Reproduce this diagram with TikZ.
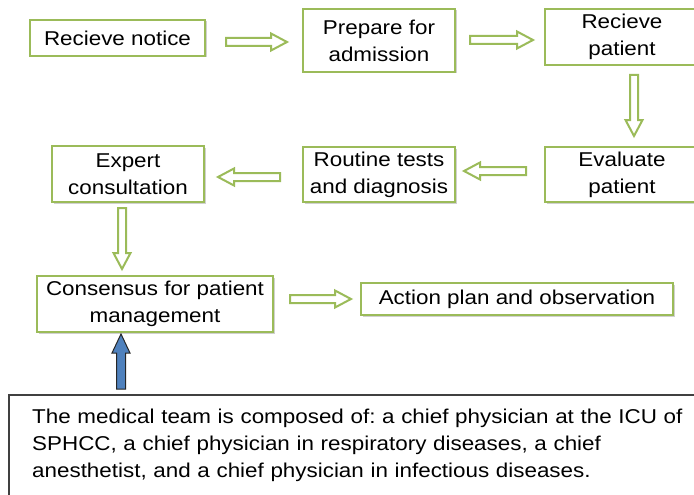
\documentclass[tikz,border=0pt]{standalone}
\usepackage{fontspec}
\setmainfont{Liberation Sans}[FakeStretch=1.12]
\frenchspacing
\usetikzlibrary{calc,shadows}
\definecolor{ogreen}{HTML}{9BBB59}
\definecolor{oblue}{HTML}{4F81BD}
\tikzset{
  stepbox/.style={draw=ogreen, line width=2pt, fill=white, align=center, inner sep=0pt,
    font=\fontsize{20}{27}\selectfont,
    drop shadow={shadow xshift=1.5pt, shadow yshift=-1.5pt, opacity=0.3, fill=black!60}},
  teambox/.style={draw=black!75, line width=1.6pt, fill=white, inner sep=0pt},
  garrow/.style={draw=ogreen, line width=2pt, fill=white, line join=miter},
  barrowstyle/.style={draw=black!85, line width=1pt, fill=oblue, line join=miter},
  pics/barrow/.style={code={\draw[garrow] (0,-4) -- ({#1-16},-4) -- ({#1-16},-8.5) -- (#1,0) -- ({#1-16},8.5) -- ({#1-16},4) -- (0,4) -- cycle;}},
  pics/bluearrow/.style={code={\draw[barrowstyle] (0,-4.5) -- ({#1-19},-4.5) -- ({#1-19},-9) -- (#1,0) -- ({#1-19},9) -- ({#1-19},4.5) -- (0,4.5) -- cycle;}}
}
\begin{document}
\begin{tikzpicture}[x=1pt,y=-1pt]
\useasboundingbox (0,0) rectangle (694,495);
\clip (0,0) rectangle (694,495);
\fill[white] (0,0) rectangle (694,495);

\node[stepbox, minimum width=175pt, minimum height=36pt] (n1) at (117.5,38) {Recieve notice};
\node[stepbox, minimum width=152pt, minimum height=63pt] (n2) at (379,40.5) {Prepare for\\admission};
\node[stepbox, minimum width=154pt, minimum height=56pt] (n3) at (622,37) {Recieve\\patient};
\node[stepbox, minimum width=154pt, minimum height=55pt] (n4) at (622,174.5) {Evaluate\\patient};
\node[stepbox, minimum width=152pt, minimum height=55pt] (n5) at (379,174.5) {Routine tests\\and diagnosis};
\node[stepbox, minimum width=152pt, minimum height=56pt] (n6) at (128,174) {Expert\\consultation};
\node[stepbox, minimum width=236pt, minimum height=56pt] (n7) at (155,304) {Consensus for patient\\management};
\node[stepbox, minimum width=312pt, minimum height=32pt] (n8) at (517,299) {Action plan and observation};

\node[teambox, anchor=north west, minimum width=700pt, minimum height=130pt] (n9) at (8,394) {};
\node[anchor=north west, inner sep=0pt, text width=660pt, align=left,
      font=\fontsize{20}{27}\selectfont] (t9) at (32,408.5)
  {The medical team is composed of: a chief physician at the ICU of\\
   SPHCC, a chief physician in respiratory diseases, a chief\\
   anesthetist, and a chief physician in infectious diseases.};

% green block arrows
\pic at ($(n1.east)+(20,4)$) {barrow=61};
\pic at ($(n2.east)+(14,-0.5)$) {barrow=63};
\pic[rotate=-90] at ($(n3.south)+(12,9)$) {barrow=61};
\pic[rotate=180] at ($(n4.west)+(-18,-3.5)$) {barrow=62};
\pic[rotate=180] at ($(n5.west)+(-22,2.5)$) {barrow=62};
\pic[rotate=-90] at ($(n6.south)+(-6,5)$) {barrow=61};
\pic at ($(n7.east)+(16,-5)$) {barrow=61};

% blue arrow from team box to consensus
\pic[rotate=90] at ($(n7.south)+(-34,56)$) {bluearrow=55};
\end{tikzpicture}
\end{document}
